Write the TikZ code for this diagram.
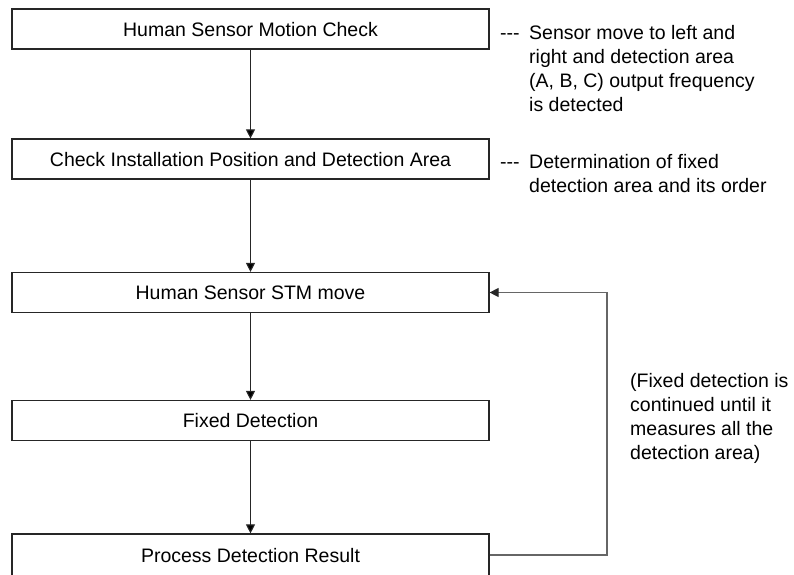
\documentclass[tikz,border=0pt]{standalone}
\usepackage{fontspec}
\setmainfont{Liberation Sans}
\usetikzlibrary{arrows.meta,calc}
\tikzset{
>={Triangle[length=9pt,width=9pt]},
blocco/.style={draw=black!85,line width=1.2pt,minimum width=477pt,minimum height=40pt,
  inner sep=0pt,text height=14pt,text depth=0pt},
nota/.style={align=left,inner sep=0pt,anchor=base west},
freccia/.style={->,line width=1.1pt,draw=black!85},
ritorno/.style={-{Triangle[length=9pt,width=9pt,color=black!85]},line width=1.2pt,draw=black!60}}

\begin{document}
\begin{tikzpicture}[x=1pt,y=-1pt,font=\fontsize{19.5}{24}\selectfont]
\useasboundingbox (0,0) rectangle (794,574);

\node[blocco] (motion)  at (250.5,29)  {Human Sensor Motion Check};
\node[blocco] (install) at (250.5,159) {Check Installation Position and Detection Area};
\node[blocco] (stm)     at (250.5,292.5) {Human Sensor STM move};
\node[blocco] (fixed)   at (250.5,420.5) {Fixed Detection};
\node[blocco,minimum height=42pt] (result) at (250.5,555) {Process Detection Result};

% multi-line notes: placed by the baseline of their last line
\node[nota] (dash1) at (500,39) {-{}-{}-};
\node[nota] (note1) at (529,111) {Sensor move to left and\\right and detection area\\(A, B, C) output frequency\\is detected};
\node[nota] (dash2) at (500,168) {-{}-{}-};
\node[nota] (note2) at (529,192) {Determination of fixed\\detection area and its order};
\node[nota] (loopnote) at (630,459) {(Fixed detection is\\continued until it\\measures all the\\detection area)};

\coordinate (turn) at (607,0);

\path[freccia] (motion) edge (install);
\path[freccia] (install) edge (stm);
\path[freccia] (stm) edge (fixed);
\path[freccia] (fixed) edge (result);

\draw[ritorno] (result.east) -- (result.east -| turn) |- (stm.east);

\end{tikzpicture}
\end{document}
